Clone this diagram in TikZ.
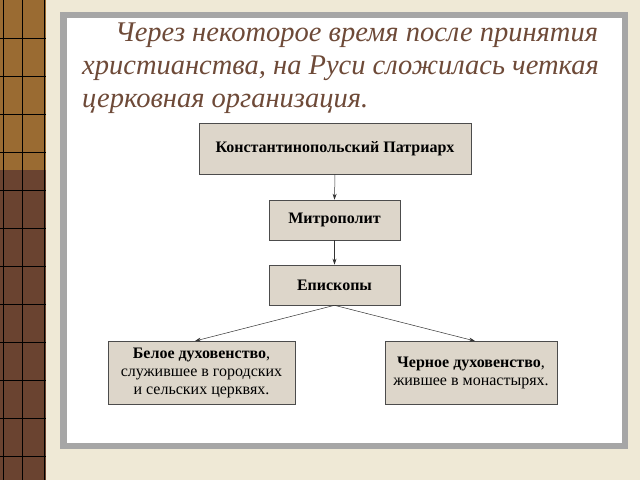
\documentclass[tikz,border=0pt]{standalone}
\usepackage{fontspec}
\setmainfont{Liberation Serif}
\usetikzlibrary{arrows.meta}
\definecolor{bg}{HTML}{EFE9D6}
\definecolor{strip}{HTML}{9A6B32}
\definecolor{stripd}{HTML}{6A4330}
\definecolor{boxc}{HTML}{DDD6CA}
\definecolor{ttl}{HTML}{6E4A38}
\tikzset{
  bx/.style={draw=black!70, fill=boxc, line width=0.6pt, align=center, font=\fontsize{16}{18}\selectfont, inner sep=2pt},
  arr/.style={-{Stealth[length=6pt,width=4pt]}, line width=0.5pt, draw=black!80}
}
\begin{document}
\begin{tikzpicture}[x=1pt,y=-1pt]
\useasboundingbox (0,0) rectangle (640,480);
\fill[bg] (0,0) rectangle (640,480);
% left strip
\fill[strip] (0,0) rectangle (46,480);
\fill[stripd] (0,170) rectangle (46,480);
\draw[black, line width=0.6pt] (3,0) -- (3,480) (22,0) -- (22,480) (44,0) -- (44,480);
\foreach \y in {38,76,...,480} \draw[black, line width=0.6pt] (0,\y) -- (46,\y);
% panel
\fill[gray!70] (60,12) rectangle (628,449);
\fill[white] (67,18) rectangle (622,443);
% title
\node[anchor=west, text=ttl, font=\fontsize{28.5}{33}\selectfont\itshape, align=left, inner sep=0] at (82,68)
{\hspace*{33pt}Через некоторое время после принятия\\христианства, на Руси сложилась четкая\\церковная организация.};
% boxes
\node[bx, minimum width=272pt, minimum height=51pt] (p) at (335,148.5) {\textbf{Константинопольский Патриарх}};
\node[bx, minimum width=131pt, minimum height=40pt] (m) at (334.5,220) {\textbf{Митрополит}};
\node[bx, minimum width=131pt, minimum height=40pt] (e) at (334.5,285) {\textbf{Епископы}};
\node[bx, minimum width=187pt, minimum height=63pt] (w) at (201.5,372.5) {\textbf{Белое духовенство},\\служившее в городских\\и сельских церквях.};
\node[bx, minimum width=172pt, minimum height=63pt] (b) at (471,372.5) {\textbf{Черное духовенство},\\жившее в монастырях.};
\draw[arr] (p.south) -- (m.north);
\draw[arr] (m.south) -- (e.north);
\draw[arr] (e.south) -- (195,341);
\draw[arr] (e.south) -- (475,341);
\end{tikzpicture}
\end{document}
